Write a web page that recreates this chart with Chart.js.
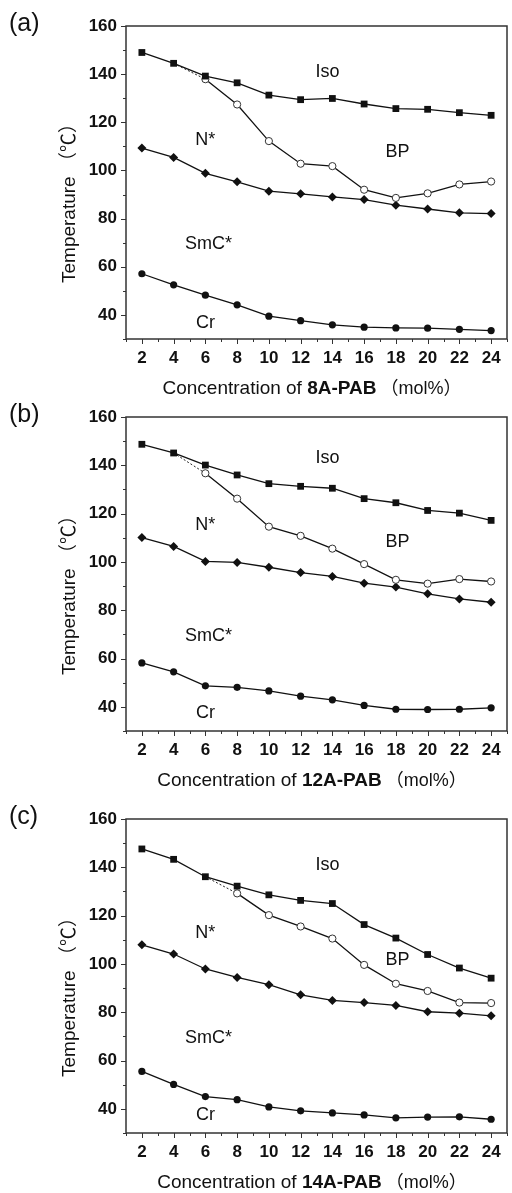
<!DOCTYPE html>
<html>
<head>
<meta charset="utf-8">
<script src="https://cdn.jsdelivr.net/npm/chart.js@4.4.0/dist/chart.umd.min.js"></script>
<style>
    body { margin: 0; background: #fff; width: 512px; height: 1193px; position: relative; overflow: hidden; }
    .panel { position: absolute; left: 0; width: 512px; height: 400px; }
</style>
</head>
<body>
<div class="panel" style="top:0px"><canvas id="chart_a" width="512" height="400"></canvas></div>
<div class="panel" style="top:391px"><canvas id="chart_b" width="512" height="400"></canvas></div>
<div class="panel" style="top:793px"><canvas id="chart_c" width="512" height="400"></canvas></div>
<script>
// concentration (mol%) and axis ticks
var concentration = [2, 4, 6, 8, 10, 12, 14, 16, 18, 20, 22, 24];
var xTicks = [2, 4, 6, 8, 10, 12, 14, 16, 18, 20, 22, 24];
var yTicks = [40, 60, 80, 100, 120, 140, 160];

// (a) 8A-PAB
var isoA = [149.0, 144.5, 139.2, 136.4, 131.3, 129.4, 129.9, 127.6, 125.7, 125.4, 124.0, 122.9];
var bpA  = [null, null, 137.9, 127.4, 112.2, 102.8, 101.8, 92.0, 88.6, 90.5, 94.2, 95.4];
var nA   = [109.3, 105.4, 98.8, 95.3, 91.4, 90.3, 89.0, 87.9, 85.6, 84.0, 82.4, 82.1];
var crA  = [57.1, 52.5, 48.2, 44.2, 39.5, 37.6, 35.9, 34.9, 34.6, 34.5, 34.0, 33.5];

// (b) 12A-PAB
var isoB = [148.7, 145.1, 140.1, 136.0, 132.4, 131.3, 130.5, 126.2, 124.5, 121.3, 120.2, 117.2];
var bpB  = [null, null, 136.7, 126.2, 114.6, 110.8, 105.5, 99.1, 92.6, 91.0, 92.9, 91.9];
var nB   = [110.1, 106.4, 100.2, 99.8, 97.8, 95.6, 94.0, 91.2, 89.6, 86.8, 84.7, 83.3];
var crB  = [58.2, 54.5, 48.7, 48.1, 46.6, 44.4, 42.9, 40.6, 39.0, 38.9, 39.0, 39.6];

// (c) 14A-PAB
var isoC = [147.6, 143.3, 136.1, 132.2, 128.6, 126.3, 125.0, 116.3, 110.7, 103.9, 98.3, 94.1];
var bpC  = [null, null, null, 129.2, 120.2, 115.5, 110.5, 99.6, 91.8, 88.8, 84.0, 83.8];
var nC   = [107.9, 104.1, 97.9, 94.4, 91.4, 87.2, 84.9, 84.0, 82.8, 80.2, 79.6, 78.5];
var crC  = [55.5, 50.1, 45.1, 43.8, 40.8, 39.2, 38.3, 37.5, 36.3, 36.6, 36.7, 35.7];

var phaseNames = ['Iso', 'N*', 'BP', 'SmC*', 'Cr'];

function pts(values) {
    return concentration.map(function (c, i) { return { x: c, y: values[i] }; });
}

var sans = "'Liberation Sans', Arial, sans-serif";
var cjk = "'Noto Sans CJK SC', sans-serif";

var framePlugin = {
    id: 'frame',
    afterDraw: function (chart) {
        var ctx = chart.ctx, a = chart.chartArea;
        var xs = chart.scales.x, ys = chart.scales.y;
        var p = chart.options.panel;
        ctx.save();
        ctx.strokeStyle = '#333';
        ctx.lineWidth = 1.5;
        ctx.strokeRect(a.left, a.top, a.right - a.left, a.bottom - a.top);
        ctx.lineWidth = 1;
        ctx.beginPath();
        for (var v = 30; v <= 160; v += 10) {
            var y = Math.round(ys.getPixelForValue(v)) + 0.5;
            var len = v % 20 === 0 ? 5 : 3;
            ctx.moveTo(a.left - len, y);
            ctx.lineTo(a.left, y);
        }
        for (var c = 1; c <= 25; c++) {
            var x = Math.round(xs.getPixelForValue(c)) + 0.5;
            var l = c % 2 === 0 ? 5 : 3;
            ctx.moveTo(x, a.bottom);
            ctx.lineTo(x, a.bottom + l);
        }
        ctx.stroke();

        ctx.fillStyle = '#111';
        // phase labels
        ctx.font = '18px ' + sans;
        ctx.textAlign = 'center';
        ctx.textBaseline = 'middle';
        p.labels.forEach(function (pos, i) {
            ctx.fillText(phaseNames[i], xs.getPixelForValue(pos[0]), ys.getPixelForValue(pos[1]));
        });

        // panel tag
        ctx.font = '25px ' + sans;
        ctx.textAlign = 'left';
        ctx.fillText(p.tag, 9, a.top - 2);

        // x title, pieces drawn one after another
        var parts = [
            ['Concentration of ', '19px ' + sans],
            [p.compound, 'bold 19px ' + sans],
            [' \uFF08', '18px ' + cjk],
            ['mol%', '18px ' + sans],
            ['\uFF09', '18px ' + cjk]
        ];
        var total = 0;
        parts.forEach(function (q) { ctx.font = q[1]; q.push(ctx.measureText(q[0]).width); total += q[2]; });
        var xx = 312 - total / 2, yb = a.bottom + 55;
        ctx.textBaseline = 'alphabetic';
        parts.forEach(function (q) { ctx.font = q[1]; ctx.fillText(q[0], xx, yb); xx += q[2]; });

        // y title
        ctx.translate(75, a.bottom - 56);
        ctx.rotate(-Math.PI / 2);
        ctx.font = '19px ' + sans;
        var wt = ctx.measureText('Temperature ').width;
        ctx.fillText('Temperature ', 0, 0);
        ctx.font = '19px ' + cjk;
        ctx.fillText('\uFF08\u2103\uFF09', wt, 0);
        ctx.restore();
    }
};

function makeChart(p) {
    var dot = [
        { x: concentration[p.dotFrom], y: p.iso[p.dotFrom] },
        { x: concentration[p.dotTo], y: p.bp[p.dotTo] }
    ];
    new Chart(document.getElementById(p.id), {
        type: 'line',
        data: {
            datasets: [
                { data: pts(p.iso), borderColor: '#111', borderWidth: 1.3, pointStyle: 'rect', pointRadius: 4.8, pointBackgroundColor: '#111', pointBorderColor: '#111', pointBorderWidth: 0 },
                { data: pts(p.bp), borderColor: '#111', borderWidth: 1.3, pointStyle: 'circle', pointRadius: 3.6, pointBackgroundColor: '#fff', pointBorderColor: '#333', pointBorderWidth: 1, spanGaps: false },
                { data: pts(p.nStar), borderColor: '#111', borderWidth: 1.3, pointStyle: 'rectRot', pointRadius: 4.5, pointBackgroundColor: '#111', pointBorderColor: '#111', pointBorderWidth: 0 },
                { data: pts(p.cr), borderColor: '#111', borderWidth: 1.3, pointStyle: 'circle', pointRadius: 3.6, pointBackgroundColor: '#111', pointBorderColor: '#111', pointBorderWidth: 0 },
                { data: dot, borderColor: '#222', borderWidth: 1, borderDash: [2, 2], pointRadius: 0 }
            ]
        },
        options: {
            panel: p,
            responsive: false,
            animation: false,
            devicePixelRatio: 1,
            layout: { padding: { top: 26, right: 2, left: 0, bottom: 0 } },
            plugins: { legend: { display: false }, tooltip: { enabled: false } },
            scales: {
                x: {
                    type: 'linear', min: 1, max: 25,
                    afterFit: function (s) { s.height = 400 - 26 - p.plotH; },
                    afterBuildTicks: function (s) { s.ticks = xTicks.map(function (v) { return { value: v }; }); },
                    grid: { display: false, drawTicks: false },
                    border: { display: false },
                    ticks: { color: '#111', padding: 9, maxRotation: 0, autoSkip: false, font: { family: sans, size: 17, weight: 'bold' } }
                },
                y: {
                    min: 30, max: 160,
                    afterFit: function (s) { s.width = 126; },
                    afterBuildTicks: function (s) { s.ticks = yTicks.map(function (v) { return { value: v }; }); },
                    grid: { display: false, drawTicks: false },
                    border: { display: false },
                    ticks: { color: '#111', padding: 9, font: { family: sans, size: 17, weight: 'bold' } }
                }
            }
        },
        plugins: [framePlugin]
    });
}

makeChart({ id: 'chart_a', tag: '(a)', compound: '8A-PAB', iso: isoA, bp: bpA, nStar: nA, cr: crA, dotFrom: 1, dotTo: 2, plotH: 313,
    labels: [[13.7, 140.8], [6.0, 112.5], [18.1, 107.5], [6.2, 69.6], [6.0, 36.7]] });
makeChart({ id: 'chart_b', tag: '(b)', compound: '12A-PAB', iso: isoB, bp: bpB, nStar: nB, cr: crB, dotFrom: 1, dotTo: 2, plotH: 314,
    labels: [[13.7, 142.9], [6.0, 115.1], [18.1, 108.2], [6.2, 69.5], [6.0, 37.6]] });
makeChart({ id: 'chart_c', tag: '(c)', compound: '14A-PAB', iso: isoC, bp: bpC, nStar: nC, cr: crC, dotFrom: 2, dotTo: 3, plotH: 314,
    labels: [[13.7, 141.1], [6.0, 112.8], [18.1, 101.7], [6.2, 69.3], [6.0, 37.5]] });
</script>
</body>
</html>
